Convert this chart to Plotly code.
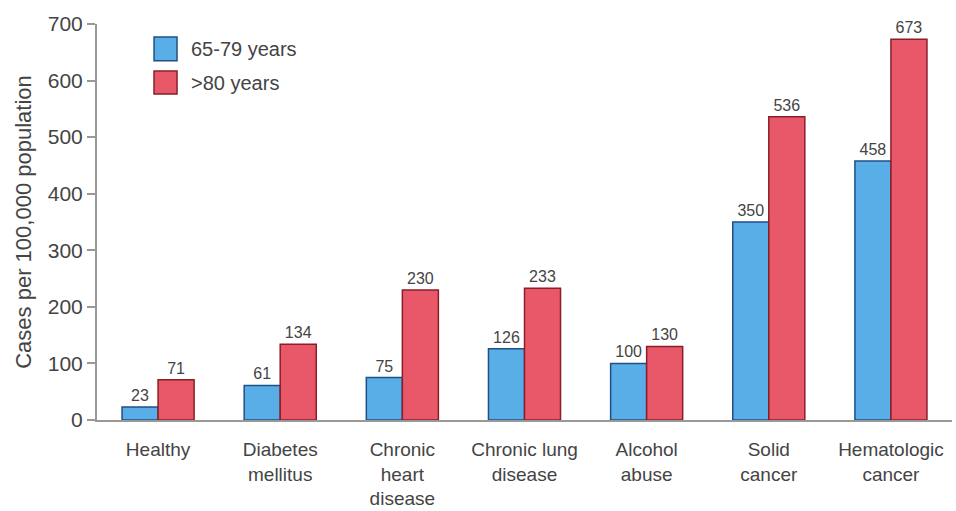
import plotly.graph_objects as go

categories = ["Healthy", "Diabetes<br>mellitus", "Chronic<br>heart<br>disease",
              "Chronic lung<br>disease", "Alcohol<br>abuse", "Solid<br>cancer",
              "Hematologic<br>cancer"]
age_65_79 = [23, 61, 75, 126, 100, 350, 458]
age_80_plus = [71, 134, 230, 233, 130, 536, 673]
series_names = ["65-79 years", ">80 years"]
y_ticks = [0, 100, 200, 300, 400, 500, 600, 700]

blue, blue_edge = "#5aaee8", "#1f4f85"
red, red_edge = "#e95868", "#8a1e28"
font = "Liberation Sans, Arial, sans-serif"

fig = go.Figure()
for name, vals, col, edge in [(series_names[0], age_65_79, blue, blue_edge),
                              (series_names[1], age_80_plus, red, red_edge)]:
    fig.add_trace(go.Bar(
        x=categories, y=vals, name=name,
        marker=dict(color=col, line=dict(color=edge, width=1.5)),
        text=[str(v) for v in vals], textposition="outside", cliponaxis=False,
        textfont=dict(size=16, color="#444", family=font), showlegend=False))

# Legend drawn as swatches + labels (larger swatches than plotly's legend allows)
legend_rows = [(series_names[0], blue, blue_edge, 0.967, 0.907),
               (series_names[1], red, red_edge, 0.881, 0.823)]
for name, col, edge, ytop, ybot in legend_rows:
    fig.add_shape(type="rect", xref="x domain", yref="y domain",
                  x0=0.0667, x1=0.0936, y0=ybot, y1=ytop,
                  fillcolor=col, line=dict(color=edge, width=1.5))
    fig.add_annotation(xref="x domain", yref="y domain", x=0.108, y=(ytop + ybot) / 2,
                       text=name, showarrow=False, xanchor="left", yanchor="middle",
                       font=dict(size=20, color="#444", family=font))

fig.update_layout(
    width=956, height=511, margin=dict(l=97, r=4, t=24, b=91),
    paper_bgcolor="white", plot_bgcolor="white",
    barmode="group", bargap=0.41, bargroupgap=0,
    font=dict(family=font, color="#444"),
    showlegend=False,
    xaxis=dict(showline=True, linecolor="#999", linewidth=2, ticks="",
               tickfont=dict(size=19, color="#444"), showgrid=False, automargin=False,
               range=[-0.5, 6.5], zeroline=False, ticklabelstandoff=11),
    yaxis=dict(range=[0, 700], tickvals=y_ticks, showline=True, linecolor="#999", linewidth=2,
               ticks="outside", ticklen=8, tickcolor="#999", tickwidth=2, automargin=False,
               tickfont=dict(size=21, color="#444"), showgrid=False, zeroline=False,
               title=dict(text="Cases per 100,000 population", font=dict(size=22, color="#444"), standoff=10)),
)
fig.write_html("out.html")
